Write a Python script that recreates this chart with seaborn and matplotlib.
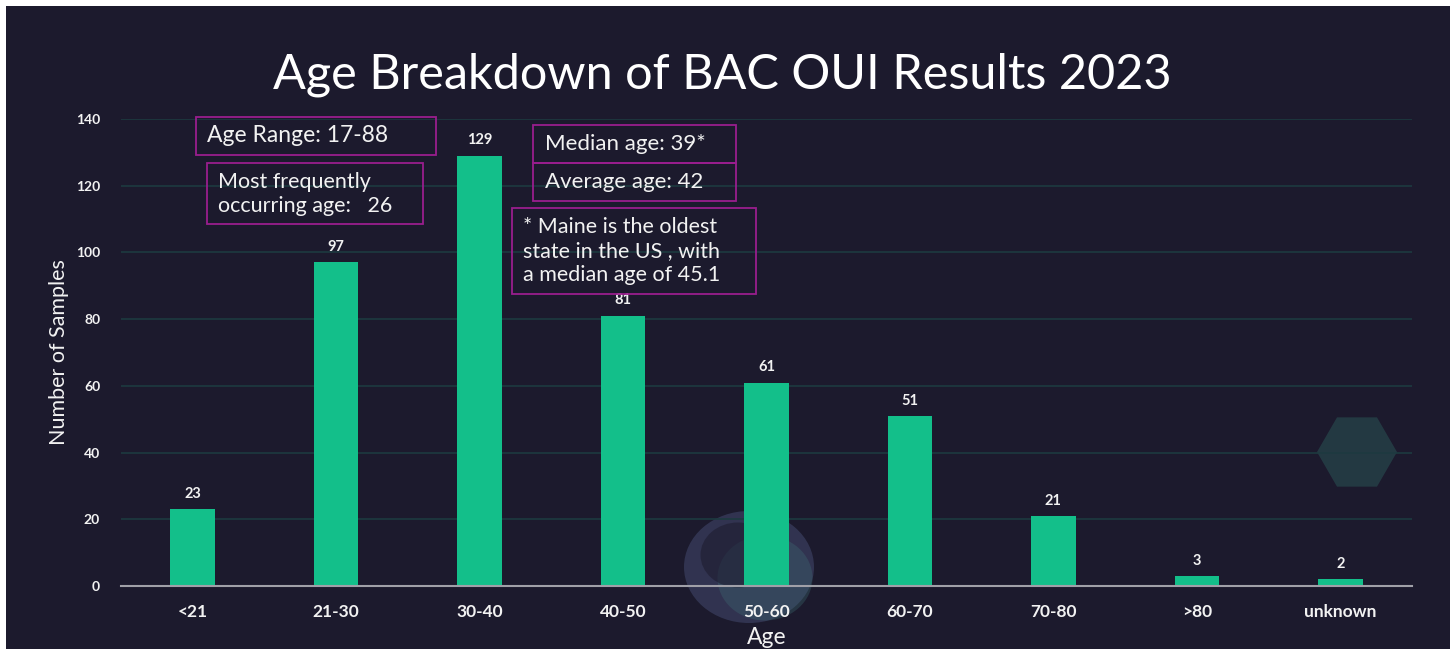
import matplotlib
matplotlib.use("Agg")
import matplotlib.pyplot as plt
from matplotlib.patches import Rectangle, Ellipse, RegularPolygon
import numpy as np
import pandas as pd
import seaborn as sns

age_groups = ['<21', '21-30', '30-40', '40-50', '50-60', '60-70', '70-80', '>80', 'unknown']
samples = [23, 97, 129, 81, 61, 51, 21, 3, 2]

bg = '#1c1a2d'
bar_col = '#13bf8a'
txt = '#f2f2f2'
box_col = '#9a1e8e'

sns.set_theme(style='dark')
plt.rcParams['font.family'] = ['Lato', 'DejaVu Sans']

W, H = 1455, 649
fig = plt.figure(figsize=(W / 100, H / 100), dpi=100, facecolor='white')

# dark slide background
fig.patches.append(Rectangle((6 / W, 0), (1450 - 6) / W, 1 - 6 / H,
                             transform=fig.transFigure, facecolor=bg,
                             edgecolor='none', zorder=-10))

# decorative shapes (pixel positions -> inches)
fig.patches.append(Ellipse((749 / 100, (H - 567) / 100), 1.30, 1.12,
                           transform=fig.dpi_scale_trans, facecolor='#3a3f60',
                           alpha=0.7, edgecolor='none', zorder=-5))
fig.patches.append(Ellipse((765 / 100, (H - 578) / 100), 0.95, 0.85,
                           transform=fig.dpi_scale_trans, facecolor='#3f7478',
                           alpha=0.3, edgecolor='none', zorder=-4))
fig.patches.append(Ellipse((738 / 100, (H - 555) / 100), 0.75, 0.65,
                           transform=fig.dpi_scale_trans, facecolor=bg,
                           alpha=0.55, edgecolor='none', zorder=-3))
fig.patches.append(RegularPolygon((1357 / 100, (H - 452) / 100), 6, radius=0.40,
                                  orientation=np.pi / 6, transform=fig.dpi_scale_trans,
                                  facecolor='#26444a', alpha=0.75, edgecolor='none',
                                  zorder=-5))

ax = fig.add_axes([121 / W, 1 - 586 / H, (1412 - 121) / W, (586 - 119) / H])
ax.set_facecolor('none')

df = pd.DataFrame({'age': age_groups, 'n': samples})
sns.barplot(data=df, x='age', y='n', hue='age', palette=[bar_col] * len(df),
            legend=False, width=0.31, ax=ax, zorder=3, saturation=1,
            edgecolor='none', linewidth=0)

for c in ax.containers:
    ax.bar_label(c, padding=6, color=txt, fontsize=10.5, fontweight='bold')

ax.set_ylim(0, 140)
ax.set_xlim(-0.5, 8.5)
ax.set_yticks(range(0, 141, 20))
ax.grid(axis='y', color='#1d3a40', linewidth=1.2, zorder=0)
ax.grid(axis='x', visible=False)
for s in ['top', 'right', 'left']:
    ax.spines[s].set_visible(False)
ax.spines['bottom'].set_color('#a0a0a8')
ax.spines['bottom'].set_linewidth(1.5)
ax.spines['bottom'].set_zorder(4)
ax.tick_params(axis='y', colors=txt, labelsize=10, length=0, pad=15)
ax.tick_params(axis='x', colors=txt, labelsize=12.5, length=0, pad=13)
for t in ax.get_yticklabels() + ax.get_xticklabels():
    t.set_fontweight('bold')
ax.set_xlabel('Age', color=txt, fontsize=16.5, labelpad=5)
ax.set_ylabel('Number of Samples', color=txt, fontsize=15.5, labelpad=5)

fig.text(722 / W, 1 - 75 / H, 'Age Breakdown of BAC OUI Results 2023',
         color='white', fontsize=35, ha='center', va='center')


def box(x0, y0, x1, y1, label, tx, fs=16):
    fig.patches.append(Rectangle((x0 / W, 1 - y1 / H), (x1 - x0) / W, (y1 - y0) / H,
                                 transform=fig.transFigure, facecolor='none',
                                 edgecolor=box_col, linewidth=1.3, zorder=5))
    fig.text(tx / W, 1 - (y0 + y1) / 2 / H, label, color=txt, fontsize=fs,
             ha='left', va='center', linespacing=1.25)


box(196, 117, 436, 155, 'Age Range: 17-88', 207, 16.5)
box(207, 163, 423, 224, 'Most frequently\noccurring age:   26', 218, 15.5)
box(533, 125, 736, 163, 'Median age: 39*', 545, 16)
box(533, 163, 736, 201, 'Average age: 42', 545, 16)
box(512, 208, 756, 294, '* Maine is the oldest\nstate in the US , with\na median age of 45.1', 523, 15.5)

fig.savefig('out.png', dpi=100, facecolor='white')
